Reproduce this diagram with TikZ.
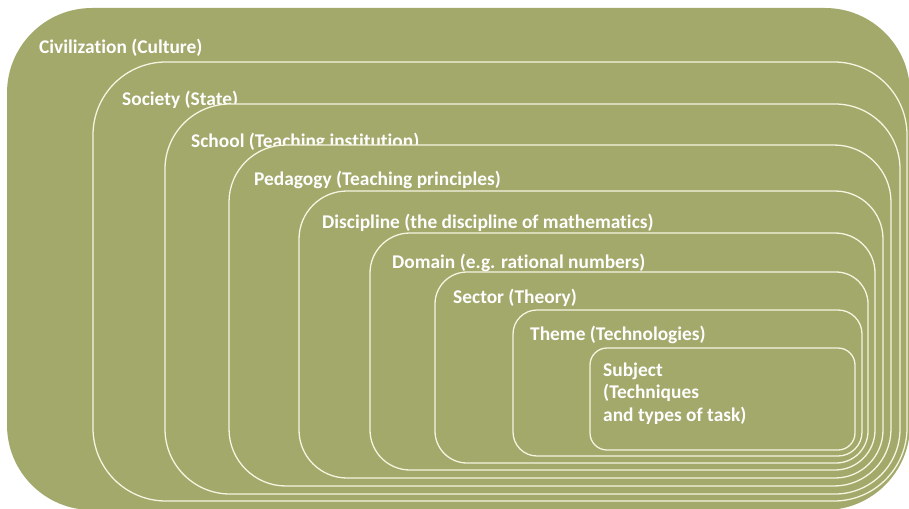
\documentclass[tikz,border=0pt]{standalone}
\usepackage{fontspec}
\setmainfont{Carlito}[Ligatures=NoCommon]
\definecolor{levelgreen}{RGB}{163,168,107}
\definecolor{levelline}{RGB}{245,245,224}

\begin{document}
\begin{tikzpicture}[x=1pt, y=-1pt,
level/.style={fill=levelgreen, draw=levelline, line width=1.3pt},
levelname/.style={text=white, inner sep=0pt, anchor=base west,
  font=\bfseries\fontsize{19.4}{22.5}\selectfont}]

%%%%%% SETTINGS %%%%%%%%%%

\useasboundingbox (0,0) rectangle (909,508);
\clip (0,0) rectangle (909,508);

%%%%%% CIVILIZATION %%%%%%%%%%

\fill[levelgreen, rounded corners=85pt] (7,8) rectangle (910,510);
\node[levelname] (civilization) at (39,54) {Civilization (Culture)};

%%%%%% LEVELS %%%%%%%%%%

\foreach \name/\xa/\ya/\xb/\yb/\rad/\tx/\ty/\txt in {
  society/93/62/907/501/73/122/106/{Society (State)},
  school/165/104/900/494/65/191/147/{School (Teaching institution)},
  pedagogy/229/145/891/486/57/254/185/{Pedagogy (Teaching principles)},
  discipline/299/191/883/478/48/322/228/{Discipline (the discipline of mathematics)},
  domain/370/233/875/470/40/392/268/{Domain (e.g. rational numbers)},
  sector/435/272/868/463/32/453/303/{Sector (Theory)},
  theme/513/310/862/456/24/530/340/{Theme (Technologies)}}
{
  \draw[level, rounded corners=\rad pt] (\xa,\ya) rectangle (\xb,\yb);
  \node[levelname] (\name) at (\tx,\ty) {\txt};
}

%%%%%% SUBJECT %%%%%%%%%%

\draw[level, rounded corners=17pt] (590,348) rectangle (855,450);
\node[levelname, align=left] (subject) at (603,421)
  {Subject\\(Techniques\\and types of task)};

\end{tikzpicture}
\end{document}
